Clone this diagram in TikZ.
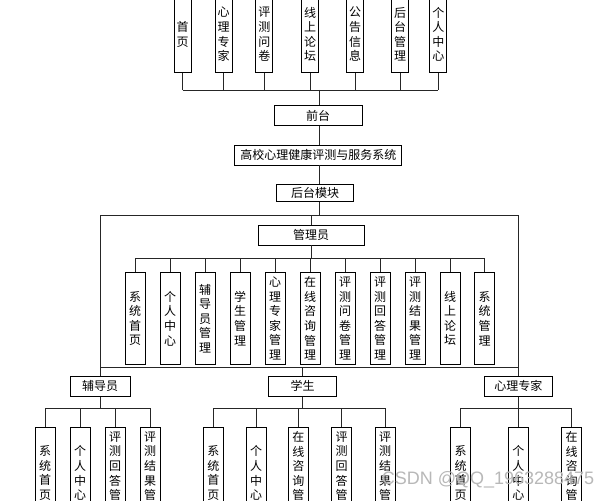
\documentclass[tikz,border=0pt]{standalone}
\usepackage{fontspec}
\newfontfamily\cjk{Noto Sans CJK SC}
\newfontfamily\wmfont{Liberation Sans}
\begin{document}
\begin{tikzpicture}[x=1pt,y=-1pt,
  box/.style={draw=black, line width=0.9pt, fill=white, inner sep=0pt,
    font=\cjk\fontsize{12}{14.6}\selectfont},
  hbox/.style={box, minimum height=20pt},
  vbox/.style={box, minimum width=20pt, minimum height=92pt, align=center, text width=12pt, anchor=north},
  tbox/.style={box, minimum width=17pt, minimum height=77pt, align=center, text width=12pt, anchor=south},
  conn/.style={draw=black!85, line width=0.9pt}]
\useasboundingbox (0,0) rectangle (609,500);
\clip (0,0) rectangle (609,500);
\fill[white] (0,0) rectangle (609,500);

% top row
\node[tbox] (t1) at (182.7,73.3) {首\\页};
\node[tbox] (t2) at (223.5,73.3) {心\\理\\专\\家};
\node[tbox] (t3) at (264.3,73.3) {评\\测\\问\\卷};
\node[tbox] (t4) at (310,73.3) {线\\上\\论\\坛};
\node[tbox] (t5) at (355,73.3) {公\\告\\信\\息};
\node[tbox] (t6) at (400,73.3) {后\\台\\管\\理};
\node[tbox] (t7) at (438.3,73.3) {个\\人\\中\\心};
\coordinate (hub1) at (319.3,90);
\foreach \i in {1,...,7} \draw[conn] (t\i.south) -- (t\i.south |- hub1);
\draw[conn] (t1.south |- hub1) -- (t7.south |- hub1);

% spine
\node[hbox, minimum width=88pt] (qt) at (318.2,115.5) {前台};
\node[hbox, minimum width=167pt] (sys) at (318.3,155) {高校心理健康评测与服务系统};
\node[hbox, minimum width=77pt, minimum height=17pt] (ht) at (315,192.7) {后台模块};
\coordinate (hub2) at (319.3,215);
\draw[conn] (hub1) -- (qt.north -| hub1);
\draw[conn] (qt.south -| hub1) -- (sys.north -| hub1);
\draw[conn] (sys.south -| hub1) -- (ht.north -| hub1);
\draw[conn] (ht.south -| hub2) -- (hub2);

% roles
\node[hbox, minimum width=106pt] (gly) at (311.2,235) {管理员};
\node[hbox, minimum width=60pt] (fdy) at (100,386.3) {辅导员};
\node[hbox, minimum width=68pt] (xs) at (302.5,386.3) {学生};
\node[hbox, minimum width=68pt] (zj) at (518.3,386.3) {心理专家};
\coordinate (hub3) at (0,367.3);
\draw[conn] (fdy.north) -- (fdy.north |- hub2) -- (zj.north |- hub2) -- (zj.north);
\draw[conn] (gly.north) -- (gly.north |- hub2);
\draw[conn] (fdy.north |- hub3) -- (zj.north |- hub3);
\draw[conn] (xs.north) -- (xs.north |- hub3);

% admin children
\coordinate (bus1) at (0,258.3);
\node[vbox] (a1) at (135,272) {系\\统\\首\\页};
\node[vbox] (a2) at (170,272) {个\\人\\中\\心};
\node[vbox] (a3) at (205,272) {辅\\导\\员\\管\\理};
\node[vbox] (a4) at (240,272) {学\\生\\管\\理};
\node[vbox] (a5) at (275,272) {心\\理\\专\\家\\管\\理};
\node[vbox] (a6) at (310,272) {在\\线\\咨\\询\\管\\理};
\node[vbox] (a7) at (345,272) {评\\测\\问\\卷\\管\\理};
\node[vbox] (a8) at (380,272) {评\\测\\回\\答\\管\\理};
\node[vbox] (a9) at (415,272) {评\\测\\结\\果\\管\\理};
\node[vbox] (a10) at (450,272) {线\\上\\论\\坛};
\node[vbox] (a11) at (484.5,272) {系\\统\\管\\理};
\draw[conn] (gly.south) -- (gly.south |- bus1);
\draw[conn] (a1.north |- bus1) -- (a11.north |- bus1);
\foreach \i in {1,...,11} \draw[conn] (a\i.north) -- (a\i.north |- bus1);

% bottom row
\coordinate (bus2) at (0,408.3);
\node[vbox] (f1) at (45,426.7) {系\\统\\首\\页};
\node[vbox] (f2) at (80,426.7) {个\\人\\中\\心};
\node[vbox] (f3) at (115,426.7) {评\\测\\回\\答\\管\\理};
\node[vbox] (f4) at (150,426.7) {评\\测\\结\\果\\管\\理};
\draw[conn] (fdy.south) -- (fdy.south |- bus2);
\draw[conn] (f1.north |- bus2) -- (f4.north |- bus2);
\foreach \i in {1,...,4} \draw[conn] (f\i.north) -- (f\i.north |- bus2);

\node[vbox] (s1) at (213.3,426.7) {系\\统\\首\\页};
\node[vbox] (s2) at (256,426.7) {个\\人\\中\\心};
\node[vbox] (s3) at (298.3,426.7) {在\\线\\咨\\询\\管\\理};
\node[vbox] (s4) at (341.7,426.7) {评\\测\\回\\答\\管\\理};
\node[vbox] (s5) at (385,426.7) {评\\测\\结\\果\\管\\理};
\draw[conn] (xs.south) -- (xs.south |- bus2);
\draw[conn] (s1.north |- bus2) -- (s5.north |- bus2);
\foreach \i in {1,...,5} \draw[conn] (s\i.north) -- (s\i.north |- bus2);

\node[vbox] (z1) at (460.7,426.7) {系\\统\\首\\页};
\node[vbox] (z2) at (518.3,426.7) {个\\人\\中\\心};
\node[vbox] (z3) at (571.7,426.7) {在\\线\\咨\\询\\管\\理};
\draw[conn] (zj.south) -- (zj.south |- bus2);
\draw[conn] (z1.north |- bus2) -- (z3.north |- bus2);
\foreach \i in {1,...,3} \draw[conn] (z\i.north) -- (z\i.north |- bus2);

% watermark
\node[font=\wmfont\fontsize{18}{18}\selectfont, text=black!28, inner sep=0pt] (wm) at (488,480) {CSDN @QQ\_1963288475};
\end{tikzpicture}
\end{document}
